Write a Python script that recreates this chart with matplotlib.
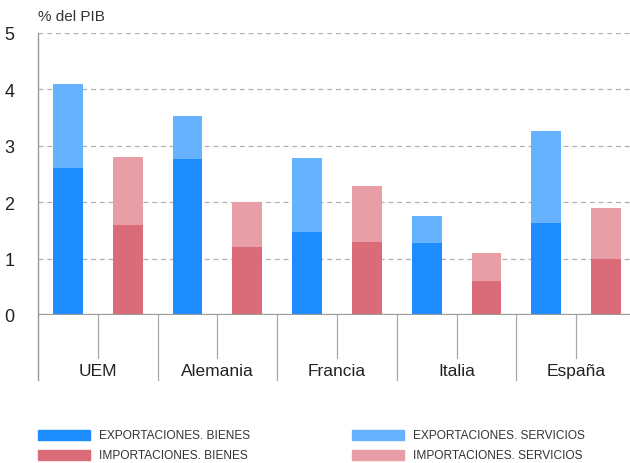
import matplotlib
matplotlib.use("Agg")
import matplotlib.pyplot as plt
import matplotlib.transforms as mtransforms
from matplotlib.patches import Rectangle
import numpy as np

plt.rcParams['font.family'] = ['Liberation Sans', 'DejaVu Sans']

categories = ["UEM", "Alemania", "Francia", "Italia", "España"]
exp_bienes = [2.6, 2.77, 1.48, 1.28, 1.64]
exp_servicios = [1.49, 0.75, 1.30, 0.48, 1.62]
imp_bienes = [1.6, 1.2, 1.3, 0.6, 1.0]
imp_servicios = [1.2, 0.8, 0.98, 0.5, 0.9]
series_labels = ["EXPORTACIONES. BIENES", "EXPORTACIONES. SERVICIOS",
                 "IMPORTACIONES. BIENES", "IMPORTACIONES. SERVICIOS"]
yticks = [0, 1, 2, 3, 4, 5]

c_eb = "#1c8cff"
c_es = "#66b2ff"
c_ib = "#da6b78"
c_is = "#e79ea6"

fig = plt.figure(figsize=(6.3, 4.64), dpi=100)
ax = fig.add_axes([38/630, (464-316)/464, 1 - 38/630, (316-34)/464])

x = np.arange(len(categories))
w = 0.25
ax.bar(x - 0.25, exp_bienes, w, color=c_eb, zorder=3)
ax.bar(x - 0.25, exp_servicios, w, bottom=exp_bienes, color=c_es, zorder=3)
ax.bar(x + 0.25, imp_bienes, w, color=c_ib, zorder=3)
ax.bar(x + 0.25, imp_servicios, w, bottom=imp_bienes, color=c_is, zorder=3)

ax.set_xlim(-0.5, 4.45)
ax.set_ylim(0, 5)
ax.set_yticks(yticks)
ax.set_yticklabels([str(t) for t in yticks], fontsize=13, color="#222222")
ax.tick_params(axis='y', length=0, pad=17)
ax.set_xticks([])
for t in yticks[1:]:
    ax.axhline(t, color="#b0b0b0", lw=0.9, ls=(0, (4, 3)), zorder=1)
ax.axhline(0, color="#9a9a9a", lw=1.6, zorder=4)

for s in ["top", "right", "bottom"]:
    ax.spines[s].set_visible(False)
ax.spines["left"].set_color("#9a9a9a")
ax.spines["left"].set_linewidth(1.0)
ax.spines["left"].set_bounds(0, 5)

trans = mtransforms.blended_transform_factory(ax.transData, ax.transAxes)
ax.plot([-0.5, -0.5], [0, -0.231], color="#9a9a9a", lw=1.0, transform=trans, clip_on=False)
for i in range(len(categories)):
    if i > 0:
        ax.plot([i - 0.5, i - 0.5], [0, -0.231], color="#a8a8a8", lw=0.9, transform=trans, clip_on=False)
    ax.plot([i, i], [0, -0.153], color="#a8a8a8", lw=0.9, transform=trans, clip_on=False)
    ax.text(i, -0.196, categories[i], transform=trans, ha="center", va="center",
            fontsize=12.5, color="#222222")

fig.text(38/630, 1 - 17/464, "% del PIB", fontsize=11, color="#333333", va="center", ha="left")

# legend
leg = [(c_eb, series_labels[0], 38, 436), (c_es, series_labels[1], 352, 436),
       (c_ib, series_labels[2], 38, 456), (c_is, series_labels[3], 352, 456)]
for col, lab, px, py in leg:
    fig.patches.append(Rectangle((px/630, 1 - (py + 5)/464), 52/630, 10/464,
                                 transform=fig.transFigure, color=col))
    fig.text((px + 61)/630, 1 - py/464, lab, fontsize=8.6,
             color="#333333", va="center", ha="left")

fig.savefig("out.png", dpi=100)
